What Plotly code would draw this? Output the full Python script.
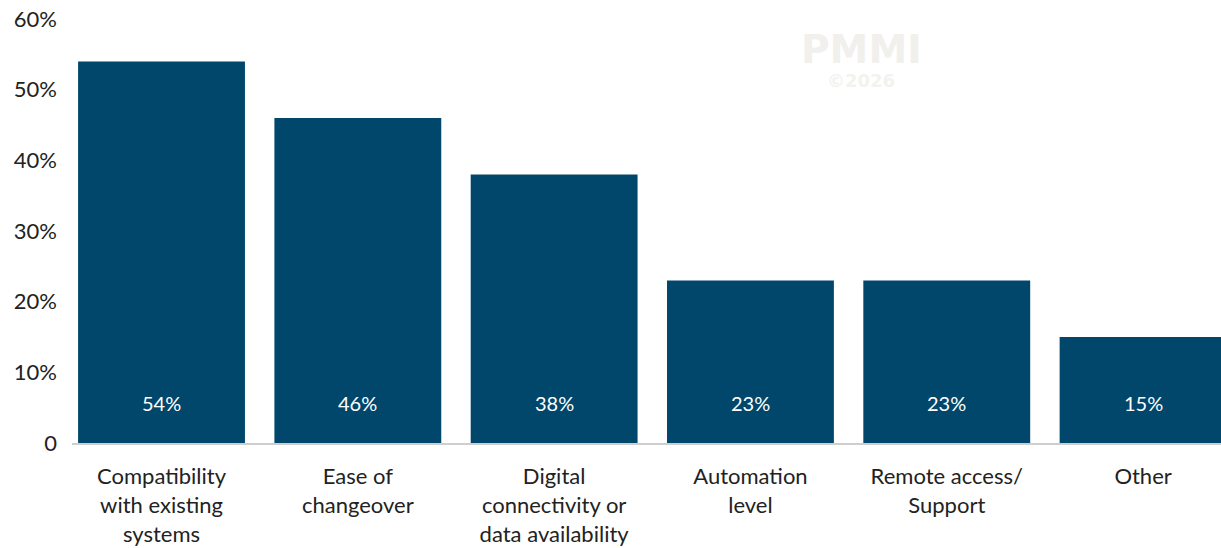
import plotly.graph_objects as go

categories = [
    "Compatibility<br>with existing<br>systems",
    "Ease of<br>changeover",
    "Digital<br>connectivity or<br>data availability",
    "Automation<br>level",
    "Remote access/<br>Support",
    "Other",
]
values = [54, 46, 38, 23, 23, 15]
y_tick_vals = [0, 10, 20, 30, 40, 50, 60]
y_tick_text = ["0", "10%", "20%", "30%", "40%", "50%", "60%"]

BAR_COLOR = "#00476b"
FONT = "Lato, 'Open Sans', sans-serif"
TEXT_COLOR = "#222222"

fig = go.Figure()
fig.add_trace(go.Bar(
    x=list(range(len(categories))),
    y=values,
    marker=dict(color=BAR_COLOR, line=dict(width=0)),
    hoverinfo="skip",
))

# value labels sit near the base of each bar
for i, v in enumerate(values):
    fig.add_annotation(
        x=i, y=5.66, xref="x", yref="y",
        text=f"{v}%", showarrow=False,
        font=dict(family=FONT, size=20, color="white"),
    )

# watermark
WM_X = (861 - 72) / 1149
fig.add_annotation(
    xref="paper", yref="paper", x=WM_X, y=1 - (50 - 19) / 424,
    xanchor="center", yanchor="middle",
    text="<b>PMMI</b>", showarrow=False,
    font=dict(family="DejaVu Sans, sans-serif", size=39, color="#f1f0ed"),
)
fig.add_annotation(
    xref="paper", yref="paper", x=WM_X, y=1 - (80 - 19) / 424,
    xanchor="center", yanchor="middle",
    text="<b>©2026</b>", showarrow=False,
    font=dict(family="DejaVu Sans, sans-serif", size=18, color="#f3f2ef"),
)

fig.update_layout(
    width=1221, height=548,
    margin=dict(l=72, r=0, t=19, b=105),
    paper_bgcolor="white", plot_bgcolor="white",
    bargap=0.15,
    showlegend=False,
    font=dict(family=FONT, size=22, color=TEXT_COLOR),
    xaxis=dict(
        range=[-0.456, 5.397],
        tickmode="array",
        tickvals=list(range(len(categories))),
        ticktext=categories,
        showgrid=False, zeroline=False,
        showline=True, linecolor="rgba(190,190,190,0.75)", linewidth=2,
        ticks="", ticklabelstandoff=13,
        tickfont=dict(family=FONT, size=22, color=TEXT_COLOR),
        automargin=False,
        fixedrange=True,
    ),
    yaxis=dict(
        range=[0, 60],
        tickmode="array",
        tickvals=y_tick_vals,
        ticktext=y_tick_text,
        showgrid=False, zeroline=False, showline=False,
        ticks="", ticklabelstandoff=14,
        tickfont=dict(family=FONT, size=22, color=TEXT_COLOR),
        automargin=False,
        fixedrange=True,
    ),
)

fig.write_html("out.html", config={"displayModeBar": False})
